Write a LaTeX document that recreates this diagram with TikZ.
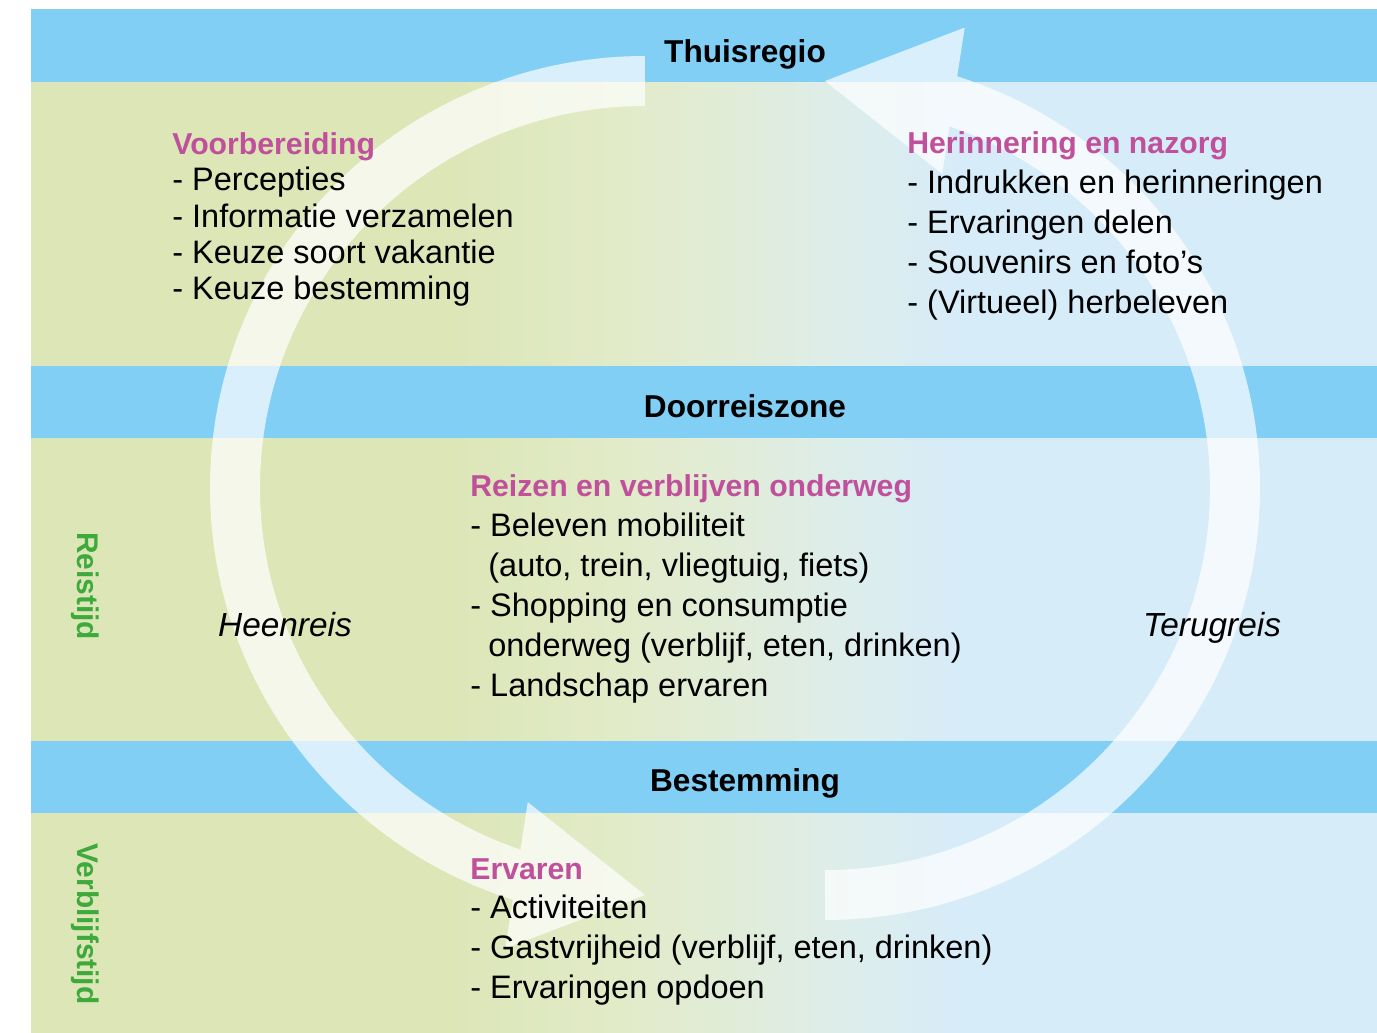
\documentclass[tikz,border=0pt]{standalone}
\usepackage{fontspec}
\setmainfont{Liberation Sans}
\usepackage{xcolor}
\usepackage{tikz}
\usetikzlibrary{arrows.meta, bending, positioning}
\definecolor{bandblauw}{HTML}{82CFF5}
\definecolor{kopmagenta}{HTML}{C0509B}
\definecolor{tijdgroen}{HTML}{3EAA3C}
\definecolor{vlakgroen}{HTML}{DCE6B7}
\definecolor{vlakgroenlicht}{HTML}{E2EBC8}
\definecolor{vlakgrijs}{HTML}{E1ECD9}
\definecolor{vlakblauwlicht}{HTML}{DDEDEB}
\definecolor{vlakblauw}{HTML}{D7ECF9}
\pgfdeclarehorizontalshading{vlakverloop}{100bp}{color(0bp)=(vlakgroen); color(25bp)=(vlakgroen); color(40.6bp)=(vlakgroen); color(46.9bp)=(vlakgroenlicht); color(51.3bp)=(vlakgrijs); color(55.4bp)=(vlakblauwlicht); color(59.5bp)=(vlakblauw); color(75bp)=(vlakblauw); color(100bp)=(vlakblauw)}

\begin{document}
\begin{tikzpicture}[x=0.02cm, y=-0.02cm,
    band/.style={fill=bandblauw, draw=none},
    bandtitel/.style={font=\fontsize{18}{22}\selectfont\bfseries, anchor=base, inner sep=0pt},
    kop/.style={text=kopmagenta, font=\fontsize{17.2}{20}\selectfont\bfseries, anchor=base west, inner sep=0pt},
    punt/.style={font=\fontsize{18.5}{22}\selectfont, anchor=base west, inner sep=0pt},
    reis/.style={font=\fontsize{19}{22}\selectfont\itshape, anchor=base, inner sep=0pt},
    tijd/.style={text=tijdgroen, font=\fontsize{17}{20}\selectfont\bfseries, rotate=-90, anchor=base, inner sep=0pt},
    cirkelpijl/.style={white, line width=1cm, -{Triangle[length=2.6cm, width=2.96cm, line width=0pt, flex]}},
]
\useasboundingbox (0,0) rectangle (1377,1032);

% achtergrond en zones
\shade[shading=vlakverloop] (31,9) rectangle (1377,1032);
\fill[band] (31,9) rectangle (1377,82);
\fill[band] (31,366) rectangle (1377,438);
\fill[band] (31,741) rectangle (1377,813);

% de twee halve cirkelpijlen
\coordinate (heenstart) at (645,81);
\coordinate (terugstart) at (825,895);
\begin{scope}[transparency group, opacity=0.7]
\draw[cirkelpijl] (heenstart) arc[start angle=-90, end angle=-270, x radius=410, y radius=407];
\draw[cirkelpijl] (terugstart) arc[start angle=90, end angle=-90, x radius=410, y radius=407];
\end{scope}

% zonetitels
\node[bandtitel] (thuis) at (745,62) {Thuisregio};
\node[bandtitel] (door) at (745,417) {Doorreiszone};
\node[bandtitel] (best) at (745,791) {Bestemming};

% reistijd / verblijfstijd
\node[tijd] (reistijd) at (77,586) {Reistijd};
\node[tijd] (verblijf) at (77,924) {Verblijfstijd};

\node[reis] (heen) at (285,636) {Heenreis};
\node[reis] (terug) at (1212,636) {Terugreis};

% Thuisregio, links
\node[kop] (voor) at (172,154) {Voorbereiding};
\node[punt] (voor1) at (172,190.5) {- Percepties};
\node[punt] (voor2) at (172,227) {- Informatie verzamelen};
\node[punt] (voor3) at (172,263) {- Keuze soort vakantie};
\node[punt] (voor4) at (172,299) {- Keuze bestemming};

% Thuisregio, rechts
\node[kop] (herin) at (907,153.5) {Herinnering en nazorg};
\node[punt] (herin1) at (907,193.5) {- Indrukken en herinneringen};
\node[punt] (herin2) at (907,233) {- Ervaringen delen};
\node[punt] (herin3) at (907,273) {- Souvenirs en foto’s};
\node[punt] (herin4) at (907,313) {- (Virtueel) herbeleven};

% Doorreiszone
\node[kop] (onderweg) at (470,496) {Reizen en verblijven onderweg};
\node[punt] (onderweg1) at (470,536) {- Beleven mobiliteit};
\node[punt] (onderweg2) at (488,576) {(auto, trein, vliegtuig, fiets)};
\node[punt] (onderweg3) at (470,616) {- Shopping en consumptie};
\node[punt] (onderweg4) at (488,656) {onderweg (verblijf, eten, drinken)};
\node[punt] (onderweg5) at (470,696) {- Landschap ervaren};

% Bestemming
\node[kop] (ervaren) at (470,879) {Ervaren};
\node[punt] (ervaren1) at (470,918.5) {- Activiteiten};
\node[punt] (ervaren2) at (470,958) {- Gastvrijheid (verblijf, eten, drinken)};
\node[punt] (ervaren3) at (470,998) {- Ervaringen opdoen};
\end{tikzpicture}
\end{document}
